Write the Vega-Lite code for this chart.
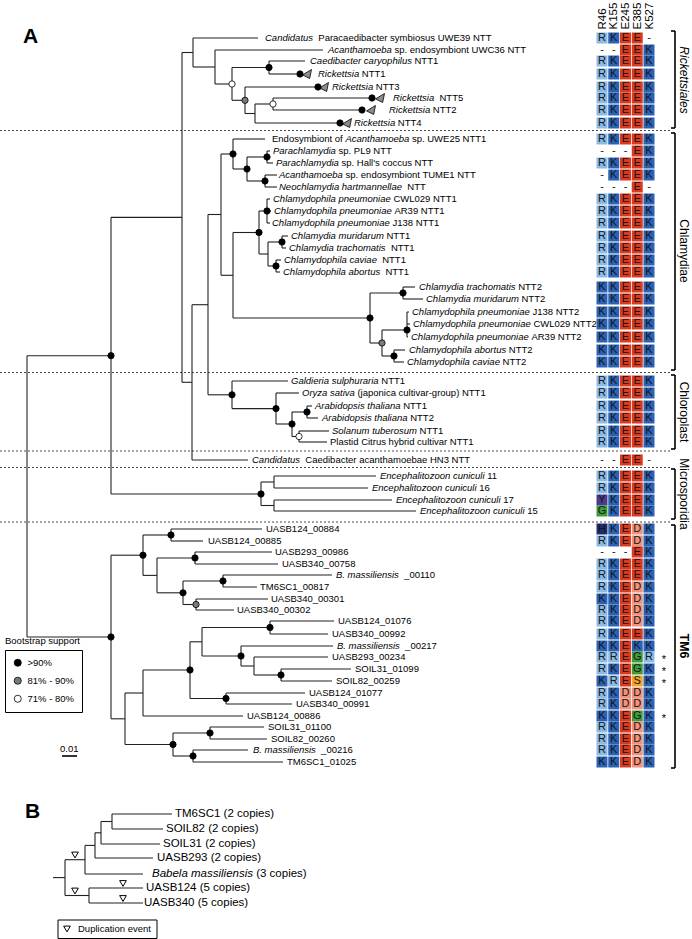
{
"$schema": "https://vega.github.io/schema/vega-lite/v6.json",
"width": 692, "height": 939, "autosize": "none", "padding": 0, "background": "white",
"config": {"view": {"stroke": null}, "font": "Liberation Sans"},
"datasets": {
"sep": [{"x":0,"y":130.5,"x2":670,"y2":130.5},{"x":0,"y":372.5,"x2":670,"y2":372.5},{"x":0,"y":451,"x2":670,"y2":451},{"x":0,"y":467.5,"x2":670,"y2":467.5},{"x":0,"y":522,"x2":670,"y2":522}],
"tree": [
{"x":182,"y":52.5,"x2":193,"y2":52.5},{"x":193,"y":38,"x2":193,"y2":67},{"x":193,"y":38,"x2":258,"y2":38},{"x":193,"y":67,"x2":215,"y2":67},{"x":215,"y":50,"x2":215,"y2":84},{"x":215,"y":50,"x2":323,"y2":50},{"x":215,"y":84,"x2":232,"y2":84},{"x":232,"y":67.5,"x2":232,"y2":100.3},{"x":232,"y":67.5,"x2":269,"y2":67.5},{"x":269,"y":61,"x2":269,"y2":74},{"x":269,"y":61,"x2":305,"y2":61},{"x":269,"y":74,"x2":300,"y2":74},{"x":232,"y":100.3,"x2":245,"y2":100.3},{"x":245,"y":87,"x2":245,"y2":113.5},{"x":245,"y":87,"x2":318,"y2":87},{"x":245,"y":113.5,"x2":255,"y2":113.5},{"x":255,"y":104,"x2":255,"y2":123},{"x":255,"y":104,"x2":273,"y2":104},{"x":273,"y":98,"x2":273,"y2":110},{"x":273,"y":98,"x2":372,"y2":98},{"x":273,"y":110,"x2":362,"y2":110},{"x":255,"y":123,"x2":340,"y2":123},
{"x":182,"y":52.5,"x2":182,"y2":382.3},{"x":111,"y":217.4,"x2":182,"y2":217.4},{"x":182,"y":382.3,"x2":192,"y2":382.3},{"x":192,"y":304.7,"x2":192,"y2":460},{"x":192,"y":460,"x2":248,"y2":460},{"x":192,"y":304.7,"x2":208,"y2":304.7},{"x":208,"y":214.5,"x2":208,"y2":394.8},{"x":208,"y":214.5,"x2":221,"y2":214.5},{"x":221,"y":154,"x2":221,"y2":275.3},
{"x":221,"y":154,"x2":233,"y2":154},{"x":233,"y":139,"x2":233,"y2":169},{"x":233,"y":139,"x2":265,"y2":139},{"x":233,"y":169,"x2":247,"y2":169},{"x":247,"y":157,"x2":247,"y2":181},{"x":247,"y":157,"x2":267,"y2":157},{"x":267,"y":151,"x2":267,"y2":163},{"x":267,"y":151,"x2":270,"y2":151},{"x":267,"y":163,"x2":273,"y2":163},{"x":247,"y":181,"x2":265,"y2":181},{"x":265,"y":175,"x2":265,"y2":187},{"x":265,"y":175,"x2":277,"y2":175},{"x":265,"y":187,"x2":277,"y2":187},
{"x":221,"y":275.3,"x2":233,"y2":275.3},{"x":233,"y":232.5,"x2":233,"y2":318},{"x":233,"y":232.5,"x2":259,"y2":232.5},{"x":259,"y":211,"x2":259,"y2":254},{"x":259,"y":211,"x2":267,"y2":211},{"x":267,"y":199,"x2":267,"y2":223},{"x":267,"y":199,"x2":270,"y2":199},{"x":267,"y":211,"x2":271,"y2":211},{"x":267,"y":223,"x2":270,"y2":223},{"x":259,"y":254,"x2":268,"y2":254},{"x":268,"y":242,"x2":268,"y2":266},{"x":268,"y":242,"x2":282,"y2":242},{"x":282,"y":236,"x2":282,"y2":248},{"x":282,"y":236,"x2":288,"y2":236},{"x":282,"y":248,"x2":286,"y2":248},{"x":268,"y":266,"x2":276,"y2":266},{"x":276,"y":260,"x2":276,"y2":272},{"x":276,"y":260,"x2":281,"y2":260},{"x":276,"y":272,"x2":280,"y2":272},
{"x":233,"y":318,"x2":370,"y2":318},{"x":370,"y":293,"x2":370,"y2":343},{"x":370,"y":293,"x2":403,"y2":293},{"x":403,"y":287,"x2":403,"y2":299},{"x":403,"y":287,"x2":415,"y2":287},{"x":403,"y":299,"x2":423,"y2":299},{"x":370,"y":343,"x2":382,"y2":343},{"x":382,"y":330,"x2":382,"y2":356},{"x":382,"y":330,"x2":407,"y2":330},{"x":407,"y":312,"x2":407,"y2":337},{"x":407,"y":312,"x2":409,"y2":312},{"x":407,"y":324,"x2":410,"y2":324},{"x":407,"y":337,"x2":408,"y2":337},{"x":382,"y":356,"x2":394,"y2":356},{"x":394,"y":350,"x2":394,"y2":362},{"x":394,"y":350,"x2":405,"y2":350},{"x":394,"y":362,"x2":404,"y2":362},
{"x":208,"y":394.8,"x2":232,"y2":394.8},{"x":232,"y":381,"x2":232,"y2":408.6},{"x":232,"y":381,"x2":288,"y2":381},{"x":232,"y":408.6,"x2":276,"y2":408.6},{"x":276,"y":393,"x2":276,"y2":424},{"x":276,"y":393,"x2":299,"y2":393},{"x":276,"y":424,"x2":292,"y2":424},{"x":292,"y":412,"x2":292,"y2":436.5},{"x":292,"y":412,"x2":307,"y2":412},{"x":307,"y":406,"x2":307,"y2":418},{"x":307,"y":406,"x2":312,"y2":406},{"x":307,"y":418,"x2":318,"y2":418},{"x":292,"y":436.5,"x2":299,"y2":436.5},{"x":299,"y":431,"x2":299,"y2":442},{"x":299,"y":431,"x2":329,"y2":431},{"x":299,"y":442,"x2":327,"y2":442},
{"x":111,"y":494,"x2":261,"y2":494},{"x":261,"y":482,"x2":261,"y2":505.5},{"x":261,"y":482,"x2":274,"y2":482},{"x":274,"y":476,"x2":274,"y2":488},{"x":274,"y":476,"x2":376,"y2":476},{"x":274,"y":488,"x2":368,"y2":488},{"x":261,"y":505.5,"x2":274,"y2":505.5},{"x":274,"y":500,"x2":274,"y2":511},{"x":274,"y":500,"x2":392,"y2":500},{"x":274,"y":511,"x2":416,"y2":511},
{"x":111,"y":217.4,"x2":111,"y2":494},{"x":27,"y":355.7,"x2":111,"y2":355.7},{"x":27,"y":355.7,"x2":27,"y2":637},
{"x":27,"y":637,"x2":111,"y2":637},{"x":111,"y":555.2,"x2":111,"y2":718.8},{"x":111,"y":555.2,"x2":143,"y2":555.2},{"x":143,"y":535,"x2":143,"y2":575.4},{"x":143,"y":535,"x2":171,"y2":535},{"x":171,"y":529,"x2":171,"y2":541},{"x":171,"y":529,"x2":262,"y2":529},{"x":171,"y":541,"x2":203,"y2":541},{"x":143,"y":575.4,"x2":157,"y2":575.4},{"x":157,"y":558,"x2":157,"y2":592.8},{"x":157,"y":558,"x2":195,"y2":558},{"x":195,"y":552,"x2":195,"y2":564},{"x":195,"y":552,"x2":272,"y2":552},{"x":195,"y":564,"x2":278,"y2":564},{"x":157,"y":592.8,"x2":183,"y2":592.8},{"x":183,"y":581,"x2":183,"y2":604.5},{"x":183,"y":581,"x2":223,"y2":581},{"x":223,"y":575,"x2":223,"y2":587},{"x":223,"y":575,"x2":332,"y2":575},{"x":223,"y":587,"x2":257,"y2":587},{"x":183,"y":604.5,"x2":196,"y2":604.5},{"x":196,"y":599,"x2":196,"y2":610},{"x":196,"y":599,"x2":268,"y2":599},{"x":196,"y":610,"x2":234,"y2":610},
{"x":111,"y":718.8,"x2":125,"y2":718.8},{"x":125,"y":693,"x2":125,"y2":744.5},{"x":125,"y":693,"x2":143,"y2":693},{"x":143,"y":670,"x2":143,"y2":716},{"x":143,"y":670,"x2":190,"y2":670},{"x":190,"y":641.8,"x2":190,"y2":698.5},{"x":190,"y":641.8,"x2":202,"y2":641.8},{"x":202,"y":627.5,"x2":202,"y2":656},{"x":202,"y":627.5,"x2":270,"y2":627.5},{"x":270,"y":621,"x2":270,"y2":634},{"x":270,"y":621,"x2":334,"y2":621},{"x":270,"y":634,"x2":328,"y2":634},{"x":202,"y":656,"x2":241,"y2":656},{"x":241,"y":646,"x2":241,"y2":666},{"x":241,"y":646,"x2":333,"y2":646},{"x":241,"y":666,"x2":254,"y2":666},{"x":254,"y":657,"x2":254,"y2":675},{"x":254,"y":657,"x2":328,"y2":657},{"x":254,"y":675,"x2":281,"y2":675},{"x":281,"y":669,"x2":281,"y2":681},{"x":281,"y":669,"x2":351,"y2":669},{"x":281,"y":681,"x2":332,"y2":681},{"x":190,"y":698.5,"x2":226,"y2":698.5},{"x":226,"y":693,"x2":226,"y2":704},{"x":226,"y":693,"x2":305,"y2":693},{"x":226,"y":704,"x2":292,"y2":704},{"x":143,"y":716,"x2":243,"y2":716},{"x":125,"y":744.5,"x2":173,"y2":744.5},{"x":173,"y":733,"x2":173,"y2":756},{"x":173,"y":733,"x2":210,"y2":733},{"x":210,"y":727,"x2":210,"y2":739},{"x":210,"y":727,"x2":264,"y2":727},{"x":210,"y":739,"x2":267,"y2":739},{"x":173,"y":756,"x2":193,"y2":756},{"x":193,"y":750,"x2":193,"y2":762},{"x":193,"y":750,"x2":248,"y2":750},{"x":193,"y":762,"x2":283,"y2":762},
{"x":53,"y":877.6,"x2":65,"y2":877.6},{"x":65,"y":859.7,"x2":65,"y2":895.5},{"x":65,"y":859.7,"x2":85,"y2":859.7},{"x":85,"y":845.4,"x2":85,"y2":874},{"x":85,"y":874,"x2":143,"y2":874},{"x":85,"y":845.4,"x2":95,"y2":845.4},{"x":95,"y":832.8,"x2":95,"y2":858},{"x":95,"y":858,"x2":153,"y2":858},{"x":95,"y":832.8,"x2":101,"y2":832.8},{"x":101,"y":821.5,"x2":101,"y2":844},{"x":101,"y":844,"x2":160,"y2":844},{"x":101,"y":821.5,"x2":112,"y2":821.5},{"x":112,"y":814,"x2":112,"y2":829},{"x":112,"y":814,"x2":172,"y2":814},{"x":112,"y":829,"x2":163,"y2":829},{"x":65,"y":895.5,"x2":89,"y2":895.5},{"x":89,"y":888,"x2":89,"y2":903},{"x":89,"y":888,"x2":143,"y2":888},{"x":89,"y":903,"x2":143,"y2":903}
],
"brk": [
{"x":675,"y":31,"x2":675,"y2":128},{"x":671,"y":31,"x2":675,"y2":31},{"x":671,"y":128,"x2":675,"y2":128},
{"x":675,"y":133,"x2":675,"y2":370},{"x":671,"y":133,"x2":675,"y2":133},{"x":671,"y":370,"x2":675,"y2":370},
{"x":675,"y":375,"x2":675,"y2":449},{"x":671,"y":375,"x2":675,"y2":375},{"x":671,"y":449,"x2":675,"y2":449},
{"x":675,"y":469,"x2":675,"y2":519},{"x":671,"y":469,"x2":675,"y2":469},{"x":671,"y":519,"x2":675,"y2":519},
{"x":675,"y":525,"x2":675,"y2":768},{"x":671,"y":525,"x2":675,"y2":525},{"x":671,"y":768,"x2":675,"y2":768},
{"x":62,"y":756,"x2":77,"y2":756}
],
"dots": [
{"x":269,"y":67.5,"s":">90%"},{"x":300,"y":74,"s":">90%"},{"x":318,"y":87,"s":">90%"},{"x":372,"y":98,"s":">90%"},{"x":362,"y":110,"s":">90%"},{"x":340,"y":123,"s":">90%"},
{"x":233,"y":154,"s":">90%"},{"x":247,"y":169,"s":">90%"},{"x":267,"y":157,"s":">90%"},{"x":265,"y":181,"s":">90%"},{"x":267,"y":211,"s":">90%"},{"x":282,"y":242,"s":">90%"},{"x":276,"y":266,"s":">90%"},{"x":259,"y":232.5,"s":">90%"},{"x":370,"y":318,"s":">90%"},{"x":403,"y":293,"s":">90%"},{"x":407,"y":330,"s":">90%"},{"x":394,"y":356,"s":">90%"},
{"x":232,"y":394.8,"s":">90%"},{"x":276,"y":408.6,"s":">90%"},{"x":292,"y":424,"s":">90%"},{"x":307,"y":412,"s":">90%"},
{"x":261,"y":494,"s":">90%"},{"x":111,"y":355.7,"s":">90%"},{"x":111,"y":637,"s":">90%"},
{"x":143,"y":555.2,"s":">90%"},{"x":171,"y":535,"s":">90%"},{"x":195,"y":558,"s":">90%"},{"x":183,"y":592.8,"s":">90%"},{"x":223,"y":581,"s":">90%"},{"x":270,"y":627.5,"s":">90%"},{"x":241,"y":656,"s":">90%"},{"x":281,"y":675,"s":">90%"},{"x":190,"y":670,"s":">90%"},{"x":226,"y":698.5,"s":">90%"},{"x":210,"y":733,"s":">90%"},{"x":173,"y":744.5,"s":">90%"},{"x":193,"y":756,"s":">90%"},
{"x":245,"y":100.3,"s":"81% - 90%"},{"x":382,"y":343,"s":"81% - 90%"},{"x":196,"y":604.5,"s":"81% - 90%"},
{"x":232,"y":84,"s":"71% - 80%"},{"x":273,"y":104,"s":"71% - 80%"},{"x":299,"y":436.5,"s":"71% - 80%"}
],
"wedge": [{"x":307,"y":74},{"x":324,"y":87},{"x":380,"y":98},{"x":371,"y":110},{"x":347,"y":123}],
"dup": [{"x":75,"y":855},{"x":75,"y":891},{"x":123,"y":883.5},{"x":123,"y":898.5},{"x":67,"y":929}],
"dupbox": [{"x":58,"y":920,"x2":157,"y2":938.5}],
"labA": [
{"x":265,"y":38,"t":"Candidatus","s":"i"},{"x":318.3,"y":38,"t":"Paracaedibacter symbiosus UWE39 NTT","s":"n"},
{"x":328,"y":50,"t":"Acanthamoeba","s":"i"},{"x":394.5,"y":50,"t":"sp. endosymbiont UWC36 NTT","s":"n"},
{"x":310,"y":61,"t":"Caedibacter caryophilus","s":"i"},{"x":414.5,"y":61,"t":"NTT1","s":"n"},
{"x":318,"y":74,"t":"Rickettsia","s":"i"},{"x":361.8,"y":74,"t":"NTT1","s":"n"},
{"x":332,"y":87,"t":"Rickettsia","s":"i"},{"x":375.8,"y":87,"t":"NTT3","s":"n"},
{"x":393,"y":98,"t":"Rickettsia","s":"i"},{"x":439.5,"y":98,"t":"NTT5","s":"n"},
{"x":389,"y":110,"t":"Rickettsia","s":"i"},{"x":432.8,"y":110,"t":"NTT2","s":"n"},
{"x":354,"y":123,"t":"Rickettsia","s":"i"},{"x":397.8,"y":123,"t":"NTT4","s":"n"},
{"x":272,"y":139,"t":"Endosymbiont of","s":"n"},{"x":345.4,"y":139,"t":"Acanthamoeba","s":"i"},{"x":411.9,"y":139,"t":"sp. UWE25 NTT1","s":"n"},
{"x":273,"y":151,"t":"Parachlamydia","s":"i"},{"x":338.5,"y":151,"t":"sp. PL9 NTT","s":"n"},
{"x":276,"y":163,"t":"Parachlamydia","s":"i"},{"x":341.5,"y":163,"t":"sp. Hall's coccus NTT","s":"n"},
{"x":279,"y":175,"t":"Acanthamoeba","s":"i"},{"x":345.5,"y":175,"t":"sp. endosymbiont TUME1 NTT","s":"n"},
{"x":279,"y":187,"t":"Neochlamydia hartmannellae","s":"i"},{"x":407.3,"y":187,"t":"NTT","s":"n"},
{"x":273,"y":199,"t":"Chlamydophila pneumoniae","s":"i"},{"x":393.4,"y":199,"t":"CWL029 NTT1","s":"n"},
{"x":274,"y":211,"t":"Chlamydophila pneumoniae","s":"i"},{"x":394.4,"y":211,"t":"AR39 NTT1","s":"n"},
{"x":272,"y":223,"t":"Chlamydophila pneumoniae","s":"i"},{"x":392.4,"y":223,"t":"J138 NTT1","s":"n"},
{"x":291,"y":236,"t":"Chlamydia muridarum","s":"i"},{"x":386.5,"y":236,"t":"NTT1","s":"n"},
{"x":289,"y":248,"t":"Chlamydia trachomatis","s":"i"},{"x":390.9,"y":248,"t":"NTT1","s":"n"},
{"x":284,"y":260,"t":"Chlamydophila caviae","s":"i"},{"x":382.2,"y":260,"t":"NTT1","s":"n"},
{"x":283,"y":272,"t":"Chlamydophila abortus","s":"i"},{"x":385.4,"y":272,"t":"NTT1","s":"n"},
{"x":419,"y":287,"t":"Chlamydia trachomatis","s":"i"},{"x":518.2,"y":287,"t":"NTT2","s":"n"},
{"x":426,"y":299,"t":"Chlamydia muridarum","s":"i"},{"x":521.5,"y":299,"t":"NTT2","s":"n"},
{"x":412,"y":312,"t":"Chlamydophila pneumoniae","s":"i"},{"x":532.4,"y":312,"t":"J138 NTT2","s":"n"},
{"x":413,"y":324,"t":"Chlamydophila pneumoniae","s":"i"},{"x":533.4,"y":324,"t":"CWL029 NTT2","s":"n"},
{"x":411,"y":337,"t":"Chlamydophila pneumoniae","s":"i"},{"x":531.4,"y":337,"t":"AR39 NTT2","s":"n"},
{"x":409,"y":350,"t":"Chlamydophila abortus","s":"i"},{"x":508.8,"y":350,"t":"NTT2","s":"n"},
{"x":407,"y":362,"t":"Chlamydophila caviae","s":"i"},{"x":502.6,"y":362,"t":"NTT2","s":"n"},
{"x":291,"y":381,"t":"Galdieria sulphuraria","s":"i"},{"x":381.3,"y":381,"t":"NTT1","s":"n"},
{"x":302,"y":393,"t":"Oryza sativa","s":"i"},{"x":357.4,"y":393,"t":"(japonica cultivar-group) NTT1","s":"n"},
{"x":315,"y":406,"t":"Arabidopsis thaliana","s":"i"},{"x":403.2,"y":406,"t":"NTT1","s":"n"},
{"x":322,"y":418,"t":"Arabidopsis thaliana","s":"i"},{"x":410.2,"y":418,"t":"NTT2","s":"n"},
{"x":332,"y":431,"t":"Solanum tuberosum","s":"i"},{"x":419.6,"y":431,"t":"NTT1","s":"n"},
{"x":330,"y":442,"t":"Plastid Citrus hybrid cultivar NTT1","s":"n"},
{"x":252,"y":460,"t":"Candidatus","s":"i"},{"x":305.3,"y":460,"t":"Caedibacter acanthamoebae HN3 NTT","s":"n"},
{"x":380,"y":476,"t":"Encephalitozoon cuniculi","s":"i"},{"x":487.2,"y":476,"t":"11","s":"n"},
{"x":372,"y":488,"t":"Encephalitozoon cuniculi","s":"i"},{"x":479.2,"y":488,"t":"16","s":"n"},
{"x":396,"y":500,"t":"Encephalitozoon cuniculi","s":"i"},{"x":503.2,"y":500,"t":"17","s":"n"},
{"x":420,"y":511,"t":"Encephalitozoon cuniculi","s":"i"},{"x":527.2,"y":511,"t":"15","s":"n"},
{"x":266,"y":529,"t":"UASB124_00884","s":"n"},{"x":208,"y":541,"t":"UASB124_00885","s":"n"},{"x":275,"y":552,"t":"UASB293_00986","s":"n"},{"x":282,"y":564,"t":"UASB340_00758","s":"n"},
{"x":336,"y":575,"t":"B. massiliensis","s":"i"},{"x":404.1,"y":575,"t":"_00110","s":"n"},
{"x":260,"y":587,"t":"TM6SC1_00817","s":"n"},{"x":271,"y":599,"t":"UASB340_00301","s":"n"},{"x":237,"y":610,"t":"UASB340_00302","s":"n"},{"x":338,"y":621,"t":"UASB124_01076","s":"n"},{"x":332,"y":634,"t":"UASB340_00992","s":"n"},
{"x":337,"y":646,"t":"B. massiliensis","s":"i"},{"x":405.1,"y":646,"t":"_00217","s":"n"},
{"x":332,"y":657,"t":"UASB293_00234","s":"n"},{"x":355,"y":669,"t":"SOIL31_01099","s":"n"},{"x":336,"y":681,"t":"SOIL82_00259","s":"n"},{"x":309,"y":693,"t":"UASB124_01077","s":"n"},{"x":296,"y":704,"t":"UASB340_00991","s":"n"},{"x":247,"y":716,"t":"UASB124_00886","s":"n"},{"x":268,"y":727,"t":"SOIL31_01100","s":"n"},{"x":271,"y":739,"t":"SOIL82_00260","s":"n"},
{"x":253,"y":750,"t":"B. massiliensis","s":"i"},{"x":321.1,"y":750,"t":"_00216","s":"n"},
{"x":287,"y":762,"t":"TM6SC1_01025","s":"n"},
{"x":5,"y":641,"t":"Bootstrap support","s":"n"},{"x":60,"y":749,"t":"0.01","s":"n"},
{"x":78,"y":929,"t":"Duplication event","s":"n"}
],
"labB": [
{"x":175,"y":814,"t":"TM6SC1 (2 copies)","s":"n"},{"x":166,"y":829,"t":"SOIL82 (2 copies)","s":"n"},{"x":163,"y":844,"t":"SOIL31 (2 copies)","s":"n"},{"x":157,"y":858,"t":"UASB293 (2 copies)","s":"n"},{"x":152,"y":874,"t":"Babela massiliensis","s":"i"},{"x":256.2,"y":874,"t":"(3 copies)","s":"n"},{"x":146,"y":888,"t":"UASB124 (5 copies)","s":"n"},{"x":144,"y":903,"t":"UASB340 (5 copies)","s":"n"}
],
"grp": [{"x":684,"y":80,"t":"Rickettsiales","s":"i"},{"x":684,"y":251,"t":"Chlamydiae","s":"n"},{"x":684,"y":412,"t":"Chloroplast","s":"n"},{"x":684,"y":494,"t":"Microsporidia","s":"n"},{"x":684,"y":646,"t":"TM6","s":"b"}],
"letters": [{"x":23,"y":43,"t":"A"},{"x":25,"y":818,"t":"B"}],
"stars": [{"x":664,"y":657},{"x":664,"y":669},{"x":664,"y":681},{"x":664,"y":716}],
"cells": [
{"y":38,"R46":"R","K155":"K","E245":"E","E385":"E","K527":"-"},
{"y":50,"R46":"-","K155":"-","E245":"E","E385":"E","K527":"K"},
{"y":61,"R46":"R","K155":"K","E245":"E","E385":"E","K527":"K"},
{"y":74,"R46":"R","K155":"K","E245":"E","E385":"E","K527":"K"},
{"y":87,"R46":"R","K155":"K","E245":"E","E385":"E","K527":"K"},
{"y":98,"R46":"R","K155":"K","E245":"E","E385":"E","K527":"K"},
{"y":110,"R46":"R","K155":"K","E245":"E","E385":"E","K527":"K"},
{"y":123,"R46":"R","K155":"K","E245":"E","E385":"E","K527":"K"},
{"y":139,"R46":"R","K155":"K","E245":"E","E385":"E","K527":"K"},
{"y":151,"R46":"-","K155":"-","E245":"-","E385":"E","K527":"K"},
{"y":163,"R46":"R","K155":"K","E245":"E","E385":"E","K527":"K"},
{"y":175,"R46":"-","K155":"K","E245":"E","E385":"E","K527":"K"},
{"y":187,"R46":"-","K155":"-","E245":"-","E385":"E","K527":"-"},
{"y":199,"R46":"R","K155":"K","E245":"E","E385":"E","K527":"K"},
{"y":211,"R46":"R","K155":"K","E245":"E","E385":"E","K527":"K"},
{"y":223,"R46":"R","K155":"K","E245":"E","E385":"E","K527":"K"},
{"y":236,"R46":"R","K155":"K","E245":"E","E385":"E","K527":"K"},
{"y":248,"R46":"R","K155":"K","E245":"E","E385":"E","K527":"K"},
{"y":260,"R46":"R","K155":"K","E245":"E","E385":"E","K527":"K"},
{"y":272,"R46":"R","K155":"K","E245":"E","E385":"E","K527":"K"},
{"y":287,"R46":"K","K155":"K","E245":"E","E385":"E","K527":"K"},
{"y":299,"R46":"K","K155":"K","E245":"E","E385":"E","K527":"K"},
{"y":312,"R46":"K","K155":"K","E245":"E","E385":"E","K527":"K"},
{"y":324,"R46":"K","K155":"K","E245":"E","E385":"E","K527":"K"},
{"y":337,"R46":"K","K155":"K","E245":"E","E385":"E","K527":"K"},
{"y":350,"R46":"K","K155":"K","E245":"E","E385":"E","K527":"K"},
{"y":362,"R46":"K","K155":"K","E245":"E","E385":"E","K527":"K"},
{"y":381,"R46":"R","K155":"K","E245":"E","E385":"E","K527":"K"},
{"y":393,"R46":"R","K155":"K","E245":"E","E385":"E","K527":"K"},
{"y":406,"R46":"R","K155":"K","E245":"E","E385":"E","K527":"K"},
{"y":418,"R46":"R","K155":"K","E245":"E","E385":"E","K527":"K"},
{"y":431,"R46":"R","K155":"K","E245":"E","E385":"E","K527":"K"},
{"y":442,"R46":"R","K155":"K","E245":"E","E385":"E","K527":"K"},
{"y":460,"R46":"-","K155":"-","E245":"E","E385":"E","K527":"-"},
{"y":476,"R46":"R","K155":"K","E245":"E","E385":"E","K527":"K"},
{"y":488,"R46":"R","K155":"K","E245":"E","E385":"E","K527":"K"},
{"y":500,"R46":"Y","K155":"K","E245":"E","E385":"E","K527":"K"},
{"y":511,"R46":"G","K155":"K","E245":"E","E385":"E","K527":"K"},
{"y":529,"R46":"H","K155":"K","E245":"E","E385":"D","K527":"K"},
{"y":541,"R46":"R","K155":"K","E245":"E","E385":"D","K527":"K"},
{"y":552,"R46":"-","K155":"-","E245":"-","E385":"E","K527":"K"},
{"y":564,"R46":"R","K155":"K","E245":"E","E385":"E","K527":"K"},
{"y":575,"R46":"R","K155":"K","E245":"E","E385":"E","K527":"K"},
{"y":587,"R46":"R","K155":"K","E245":"E","E385":"D","K527":"K"},
{"y":599,"R46":"K","K155":"K","E245":"E","E385":"D","K527":"K"},
{"y":610,"R46":"R","K155":"K","E245":"E","E385":"D","K527":"K"},
{"y":621,"R46":"R","K155":"K","E245":"E","E385":"D","K527":"K"},
{"y":634,"R46":"R","K155":"K","E245":"E","E385":"E","K527":"K"},
{"y":646,"R46":"K","K155":"K","E245":"E","E385":"K","K527":"K"},
{"y":657,"R46":"R","K155":"R","E245":"E","E385":"G","K527":"R"},
{"y":669,"R46":"R","K155":"K","E245":"E","E385":"G","K527":"K"},
{"y":681,"R46":"K","K155":"R","E245":"E","E385":"S","K527":"K"},
{"y":693,"R46":"R","K155":"K","E245":"D","E385":"D","K527":"K"},
{"y":704,"R46":"R","K155":"K","E245":"D","E385":"D","K527":"K"},
{"y":716,"R46":"K","K155":"K","E245":"E","E385":"G","K527":"K"},
{"y":727,"R46":"R","K155":"K","E245":"E","E385":"D","K527":"K"},
{"y":739,"R46":"R","K155":"K","E245":"E","E385":"D","K527":"K"},
{"y":750,"R46":"R","K155":"K","E245":"E","E385":"D","K527":"K"},
{"y":762,"R46":"K","K155":"K","E245":"E","E385":"D","K527":"K"}
]
},
"resolve": {"scale": {"x": "independent"}},
"layer": [
{
"encoding": {
"x": {"field": "x", "type": "quantitative", "scale": {"domain": [0, 692], "nice": false, "zero": false}, "axis": null},
"y": {"field": "y", "type": "quantitative", "scale": {"domain": [0, 939], "nice": false, "zero": false, "reverse": true}, "axis": null}
},
"layer": [
{"data": {"name": "sep"}, "mark": {"type": "rule", "color": "#333", "strokeWidth": 0.9, "strokeDash": [2, 2]}, "encoding": {"x2": {"field": "x2"}, "y2": {"field": "y2"}}},
{"data": {"name": "tree"}, "mark": {"type": "rule", "color": "#222", "strokeWidth": 1.1}, "encoding": {"x2": {"field": "x2"}, "y2": {"field": "y2"}}},
{"data": {"name": "brk"}, "mark": {"type": "rule", "color": "#000", "strokeWidth": 1.6}, "encoding": {"x2": {"field": "x2"}, "y2": {"field": "y2"}}},
{"data": {"name": "dupbox"}, "mark": {"type": "rect", "fill": "#ffffff", "stroke": "#000", "strokeWidth": 1}, "encoding": {"x2": {"field": "x2"}, "y2": {"field": "y2"}}},
{"data": {"name": "wedge"}, "mark": {"type": "point", "shape": "M-1,0.2L1,-1L0.6,1Z", "filled": true, "fill": "#8c8c8c", "stroke": "#000", "strokeWidth": 0.8, "size": 80, "opacity": 1}},
{"data": {"name": "dots"}, "mark": {"type": "point", "shape": "circle", "filled": true, "size": 40, "stroke": "#000", "strokeWidth": 0.8, "opacity": 1},
 "encoding": {"fill": {"field": "s", "type": "nominal", "scale": {"domain": [">90%", "81% - 90%", "71% - 80%"], "range": ["#000000", "#7a7a7a", "#ffffff"]},
  "legend": {"orient": "none", "legendX": 5, "legendY": 650, "title": null, "strokeColor": "#000", "padding": 8, "rowPadding": 7, "symbolType": "circle", "symbolSize": 50, "symbolStrokeColor": "#000", "symbolStrokeWidth": 0.8, "labelFontSize": 9.5, "labelFont": "Liberation Sans", "labelColor": "#000", "labelOffset": 5}}}},
{"data": {"name": "dup"}, "mark": {"type": "point", "shape": "triangle-down", "filled": true, "fill": "#ffffff", "stroke": "#000", "strokeWidth": 1, "size": 45, "opacity": 1}},
{"data": {"name": "labA"}, "transform": [{"filter": "datum.s == 'n'"}], "mark": {"type": "text", "align": "left", "baseline": "middle", "fontSize": 9.5, "color": "#000"}, "encoding": {"text": {"field": "t"}}},
{"data": {"name": "labA"}, "transform": [{"filter": "datum.s == 'i'"}], "mark": {"type": "text", "align": "left", "baseline": "middle", "fontSize": 9.5, "fontStyle": "italic", "color": "#000"}, "encoding": {"text": {"field": "t"}}},
{"data": {"name": "labB"}, "transform": [{"filter": "datum.s == 'n'"}], "mark": {"type": "text", "align": "left", "baseline": "middle", "fontSize": 11.5, "color": "#000"}, "encoding": {"text": {"field": "t"}}},
{"data": {"name": "labB"}, "transform": [{"filter": "datum.s == 'i'"}], "mark": {"type": "text", "align": "left", "baseline": "middle", "fontSize": 11.5, "fontStyle": "italic", "color": "#000"}, "encoding": {"text": {"field": "t"}}},
{"data": {"name": "grp"}, "transform": [{"filter": "datum.s == 'n'"}], "mark": {"type": "text", "align": "center", "baseline": "middle", "angle": 90, "fontSize": 12, "color": "#000"}, "encoding": {"text": {"field": "t"}}},
{"data": {"name": "grp"}, "transform": [{"filter": "datum.s == 'i'"}], "mark": {"type": "text", "align": "center", "baseline": "middle", "angle": 90, "fontSize": 12, "fontStyle": "italic", "color": "#000"}, "encoding": {"text": {"field": "t"}}},
{"data": {"name": "grp"}, "transform": [{"filter": "datum.s == 'b'"}], "mark": {"type": "text", "align": "center", "baseline": "middle", "angle": 90, "fontSize": 12.5, "fontWeight": "bold", "color": "#000"}, "encoding": {"text": {"field": "t"}}},
{"data": {"name": "letters"}, "mark": {"type": "text", "align": "left", "baseline": "alphabetic", "fontSize": 21, "fontWeight": "bold", "color": "#000"}, "encoding": {"text": {"field": "t"}}},
{"data": {"name": "stars"}, "mark": {"type": "text", "align": "center", "baseline": "middle", "fontSize": 11, "dy": 3, "text": "*", "color": "#000000"}}
]
},
{
"data": {"name": "cells"},
"transform": [{"fold": ["R46", "K155", "E245", "E385", "K527"], "as": ["pos", "aa"]}],
"encoding": {
"x": {"field": "pos", "type": "ordinal", "scale": {"type": "point", "domain": ["R46", "K155", "E245", "E385", "K527"], "range": [602, 649], "padding": 0},
 "axis": {"orient": "top", "title": null, "domain": false, "ticks": false, "labelAngle": 270, "labelAlign": "left", "labelBaseline": "middle", "labelFontSize": 11.5, "labelFont": "Liberation Sans", "labelColor": "#000", "labelPadding": 2, "offset": -31, "grid": false}},
"y": {"field": "y", "type": "quantitative", "scale": {"domain": [0, 939], "nice": false, "zero": false, "reverse": true}, "axis": null}
},
"layer": [
{"transform": [{"filter": "datum.aa != '-'"}], "mark": {"type": "square", "size": 121, "opacity": 1},
 "encoding": {"color": {"field": "aa", "type": "nominal", "scale": {"domain": ["R", "K", "E", "D", "G", "S", "H", "Y"], "range": ["#8bbae6", "#2b62b4", "#db3a1f", "#f2927b", "#3e9b3a", "#f4a524", "#1c2f6e", "#4b3a8b"]}, "legend": null}}},
{"mark": {"type": "text", "align": "center", "baseline": "middle", "fontSize": 11, "color": "#151515"}, "encoding": {"text": {"field": "aa"}}}
]
}
]
}
